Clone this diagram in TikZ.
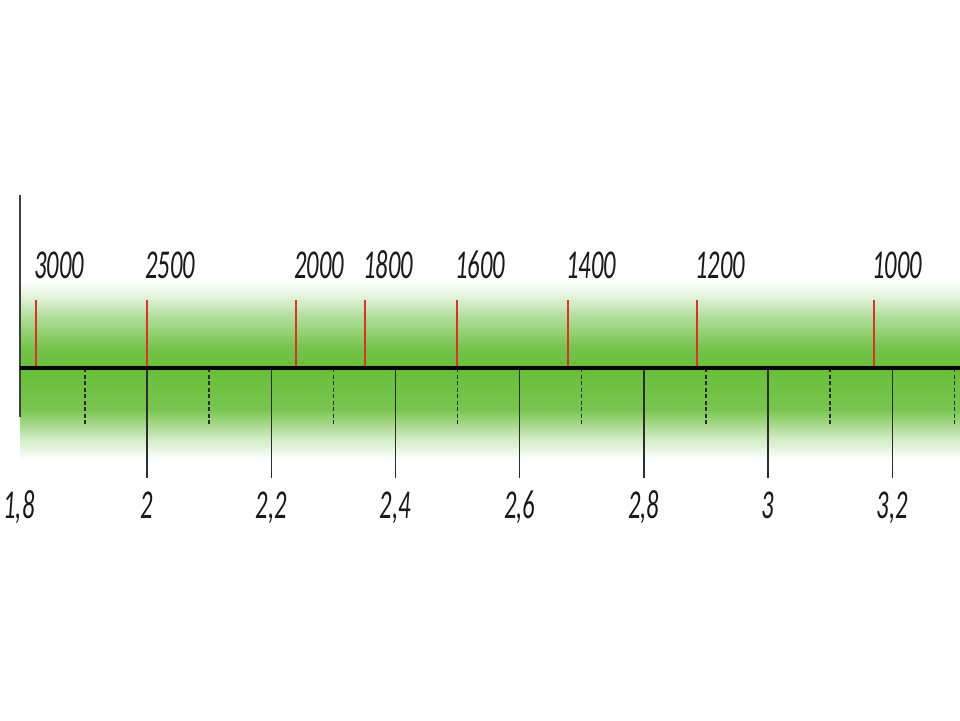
\documentclass[tikz,border=0pt]{standalone}
\usepackage{fontspec}
\setmainfont{Carlito}
\definecolor{gfull}{RGB}{104,190,58}
\definecolor{redtick}{RGB}{214,52,36}
\definecolor{tickgray}{RGB}{45,45,45}
\pgfdeclareverticalshading{greenband}{100bp}{color(0bp)=(white); color(25bp)=(white); color(31bp)=(gfull!30); color(39bp)=(gfull!88); color(50bp)=(gfull); color(56bp)=(gfull!92); color(64bp)=(gfull!55); color(71bp)=(gfull!15); color(75bp)=(white); color(100bp)=(white)}
\tikzset{
  lbl/.style={inner sep=0pt, text=black!90, font=\fontsize{41}{41}\selectfont\itshape},
  redline/.style={draw=redtick, line width=2.4pt},
  majortick/.style={draw=tickgray, line width=1.4pt},
  minortick/.style={draw=tickgray, line width=1.3pt, dash pattern=on 4pt off 2.5pt},
  axisline/.style={draw=black, line width=4pt},
  vaxis/.style={draw=black!75, line width=1.6pt}
}
\newcommand{\cnd}[1]{\scalebox{0.6}[1]{#1}}
\begin{document}
\begin{tikzpicture}[x=1pt,y=-1pt]
\useasboundingbox (0,0) rectangle (960,720);
\fill[white] (0,0) rectangle (960,720);
% green band
\shade[shading=greenband] (20,280) rectangle (960,460);
% coordinates
\coordinate (o) at (20,368);
\coordinate (e) at (960,368);
\coordinate (vt) at (20,195);
\coordinate (vb) at (20,417);
% red ticks and top labels
\foreach \x/\t in {36/3000,147/2500,296/2000,365/1800,457/1600,568/1400,697/1200,874/1000}{
  \coordinate (r\t) at (\x,300);
  \coordinate (rb\t) at (\x,368);
  \draw[redline] (r\t) -- (rb\t);
  \node[lbl, anchor=base west] (t\t) at (\x-2,278) {\cnd{\t}};
}
% minor dashed ticks
\foreach \i in {0,...,7}{
  \pgfmathsetmacro{\xx}{147+621*(0.2*\i-0.1)}
  \coordinate (ma\i) at (\xx,368);
  \coordinate (mb\i) at (\xx,425);
  \draw[minortick] (ma\i) -- (mb\i);
}
% major ticks
\foreach \i/\t in {1/2,2/{2,2},3/{2,4},4/{2,6},5/{2,8},6/3,7/{3,2}}{
  \pgfmathsetmacro{\xx}{147+621*(0.2*\i-0.2)}
  \coordinate (Ma\i) at (\xx,368);
  \coordinate (Mb\i) at (\xx,478);
  \draw[majortick] (Ma\i) -- (Mb\i);
  \node[lbl, anchor=base] (b\i) at (\xx,518) {\cnd{\t}};
}
\node[lbl, anchor=base] (b0) at (19,518) {\cnd{1,8}};
% axes
\draw[vaxis] (vt) -- (vb);
\draw[axisline] (o) -- (e);
\end{tikzpicture}
\end{document}
